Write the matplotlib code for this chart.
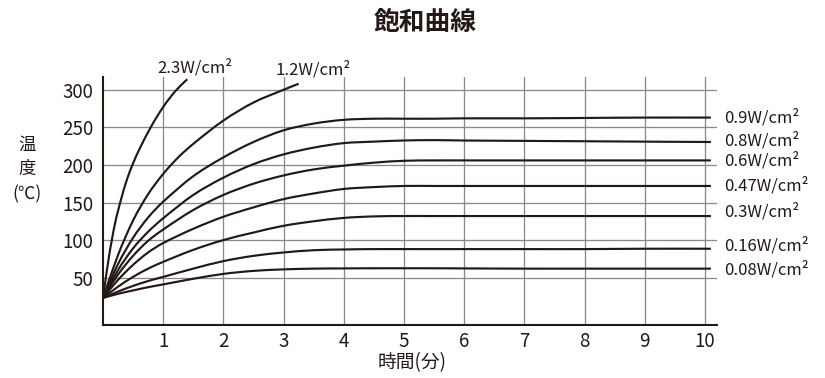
import matplotlib
matplotlib.use('Agg')
import matplotlib.pyplot as plt
from matplotlib.path import Path
from matplotlib.patches import PathPatch

plt.rcParams['font.family'] = ['Noto Sans CJK JP', 'DejaVu Sans']

# 時間(分) と 温度(℃) の読み取り値
x_main = [0, 0.25, 0.5, 0.75, 1, 1.5, 2, 2.5, 3, 3.5, 4, 4.5, 5, 5.5, 6, 7, 8, 9, 10.1]
t_090 = [23, 68, 103, 130, 151, 185, 210, 230.5, 246, 255, 260, 261.5, 261.5, 261.5, 262, 262, 262.5, 263, 263]
t_080 = [23, 60, 89, 111, 129, 160, 183, 201, 214, 223, 229, 231, 232.5, 233, 232.5, 232, 231.5, 231, 230.5]
t_060 = [23, 54, 79, 99, 114, 140, 160, 175, 186, 194, 199, 203, 205.5, 206, 206, 206, 206, 206, 206]
t_047 = [23, 47, 67, 83.5, 96, 115, 131, 143.5, 154.5, 162, 168, 170.5, 172, 172, 172, 172, 172, 172, 172]
t_030 = [23, 38, 51, 62, 71, 87, 100, 110, 119, 125, 129.5, 131.5, 132, 132, 132, 132, 132, 132, 132]
t_016 = [23, 31.5, 39, 45.5, 51, 62, 72, 79, 83.5, 86.5, 87.5, 88, 88, 88, 88, 88, 88, 88.5, 88.5]
t_008 = [23, 28.5, 33, 37.3, 41, 48.5, 55, 59, 61, 62, 62.3, 62.5, 62.5, 62.5, 62.3, 62, 62, 62, 62]

x_230 = [0, 0.1, 0.2, 0.3, 0.4, 0.5, 0.6, 0.8, 1.0, 1.2, 1.4]
t_230 = [23, 78, 122, 154, 181, 202, 220, 251, 277, 298, 314]
x_120 = [0, 0.25, 0.5, 0.75, 1, 1.25, 1.5, 2, 2.5, 3, 3.25]
t_120 = [23, 80, 126, 161, 188, 210, 228, 259, 283, 300, 308]

right_labels = ['0.9W/cm²', '0.8W/cm²', '0.6W/cm²', '0.47W/cm²', '0.3W/cm²', '0.16W/cm²', '0.08W/cm²']
right_series = [t_090, t_080, t_060, t_047, t_030, t_016, t_008]
label_shift = [0, 1, 0, 0, 3, 2, -1]   # 縦方向の微調整(pt)

x_ticks = [1, 2, 3, 4, 5, 6, 7, 8, 9, 10]
y_ticks = [50, 100, 150, 200, 250, 300]

line_color = '#231815'
grid_color = '#8a8a8a'


def smooth_path(xs, ys):
    # 各点の傾きを差分で求め、3次エルミート曲線をベジェで描く
    n = len(xs)
    slopes = []
    for i in range(n):
        a = max(i - 1, 0)
        b = min(i + 1, n - 1)
        slopes.append((ys[b] - ys[a]) / (xs[b] - xs[a]))
    verts = [(xs[0], ys[0])]
    codes = [Path.MOVETO]
    for i in range(n - 1):
        h = xs[i + 1] - xs[i]
        verts += [(xs[i] + h / 3, ys[i] + slopes[i] * h / 3),
                  (xs[i + 1] - h / 3, ys[i + 1] - slopes[i + 1] * h / 3),
                  (xs[i + 1], ys[i + 1])]
        codes += [Path.CURVE4] * 3
    return Path(verts, codes)


fig = plt.figure(figsize=(8.25, 3.78), dpi=100)
ax = fig.add_axes([0.1248, 0.1402, 0.7442, 0.6561])

ax.set_xlim(0, 10.2)
ax.set_ylim(-13, 317)
ax.set_xticks(x_ticks)
ax.set_yticks(y_ticks)
ax.tick_params(length=0, labelsize=13.5, colors=line_color)
ax.tick_params(axis='y', pad=7)
ax.tick_params(axis='x', pad=4)

for s in ['top', 'right']:
    ax.spines[s].set_visible(False)
for s in ['left', 'bottom']:
    ax.spines[s].set_color(line_color)
    ax.spines[s].set_linewidth(1.5)

ax.grid(True, color=grid_color, linewidth=0.95)
ax.set_axisbelow(True)

lw = 1.55
for xs, ys in [(x_230, t_230), (x_120, t_120)] + [(x_main, t) for t in right_series]:
    ax.add_patch(PathPatch(smooth_path(xs, ys), facecolor='none', edgecolor=line_color,
                           lw=lw, capstyle='butt', joinstyle='round', clip_on=False))

for lab, t, dy in zip(right_labels, right_series, label_shift):
    ax.annotate(lab, xy=(x_main[-1], t[-1]), xytext=(9.5, dy), textcoords='offset points',
                va='center', ha='left', fontsize=12, color=line_color, annotation_clip=False)

ax.text(0.91, 329, '2.3W/cm²', fontsize=12, va='center', ha='left', color=line_color, clip_on=False)
ax.text(2.87, 326.5, '1.2W/cm²', fontsize=12, va='center', ha='left', color=line_color, clip_on=False)

fig.text(425 / 825, 1 - 23 / 378, '飽和曲線', fontsize=18.5, fontweight='bold',
         ha='center', va='center', color=line_color)
fig.text(412 / 825, 1 - 363 / 378, '時間(分)', fontsize=13.5, ha='center', va='center', color=line_color)
for ch, py in zip(['温', '度', '(℃)'], [145, 169, 194]):
    fig.text(27 / 825, 1 - py / 378, ch, fontsize=12.5, ha='center', va='center', color=line_color)

fig.savefig('out.png', dpi=100)
